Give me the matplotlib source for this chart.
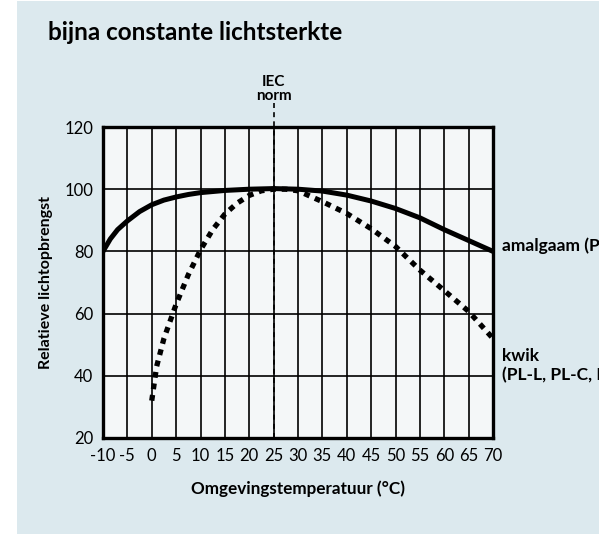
import matplotlib.pyplot as plt
from matplotlib.patches import Rectangle

plt.rcParams["font.family"] = ["Lato", "DejaVu Sans"]

# Data
amalgaam_t = [-10, -8.5, -7, -5, -2.5, 0, 2.5, 5, 7.5, 10, 15, 20, 25, 30, 35, 40, 45, 50, 55, 60, 65, 70]
amalgaam_v = [80, 84, 87, 89.8, 92.8, 95, 96.5, 97.5, 98.3, 98.9, 99.6, 100, 100.2, 100, 99.4, 98.1,
              96.2, 93.8, 90.8, 87, 83.5, 80]

kwik_t = [0, 1, 2.5, 5, 7.5, 10, 12.5, 15, 17.5, 20, 22.5, 25, 27.5, 30, 35, 40, 45, 50, 55, 60, 65, 70]
kwik_v = [32, 43, 52, 63, 72.5, 80.5, 87, 92, 95.5, 98, 99.5, 100, 100, 99.5, 96, 92.2, 87.3,
          81.6, 74, 67.4, 60.7, 52]

x_ticks = list(range(-10, 75, 5))
y_ticks = [20, 40, 60, 80, 100, 120]
iec_temp = 25

BG = "#dce9ee"
AX_BG = "#f4f7f8"

fig = plt.figure(figsize=(5.99, 5.34), dpi=100, facecolor=BG)
# white strip on the left and top edge
fig.patches.append(Rectangle((0, 0), 17 / 599, 1, transform=fig.transFigure,
                             facecolor="white", edgecolor="none", zorder=-10))
fig.patches.append(Rectangle((0, 1 - 1 / 534), 1, 1 / 534, transform=fig.transFigure,
                             facecolor="white", edgecolor="none", zorder=-10))

ax = fig.add_axes([103 / 599, (534 - 438) / 534, 390 / 599, 311 / 534])
ax.set_facecolor(AX_BG)
ax.set_xlim(-10, 70)
ax.set_ylim(20, 120)
ax.set_xticks(x_ticks)
ax.set_yticks(y_ticks)
ax.set_xticklabels([str(t) for t in x_ticks])
ax.tick_params(length=0, labelsize=12)
ax.tick_params(axis="x", pad=7)
ax.tick_params(axis="y", pad=7)
ax.grid(True, color="black", linewidth=1.2)
ax.set_axisbelow(True)
for s in ax.spines.values():
    s.set_linewidth(2.4)
    s.set_zorder(5)

ax.plot(amalgaam_t, amalgaam_v, color="black", linewidth=3.6, solid_capstyle="butt", zorder=4)
ax.plot(kwik_t, kwik_v, color="black", linewidth=3.8, linestyle=(0, (1.1, 1.1)),
        dash_capstyle="butt", zorder=4)

# IEC norm line, extends above the plot
ax.plot([iec_temp, iec_temp], [20, 128.5], color="black", linewidth=1.2, linestyle=(0, (3, 2.5)),
        clip_on=False, zorder=3)
ax.text(iec_temp, 132.2, "IEC\nnorm", ha="center", va="center", fontsize=11, fontweight="bold",
        linespacing=1.05)

ax.set_xlabel("Omgevingstemperatuur (°C)", fontsize=12.3, fontweight="bold", labelpad=12)
ax.set_ylabel("Relatieve lichtopbrengst", fontsize=11.5, fontweight="bold", labelpad=8)

ax.text(71.9, 81.8, "amalgaam (PL-T, PL-R)", ha="left", va="center", fontsize=12.5,
        fontweight="bold", clip_on=False)
ax.text(71.9, 49, "kwik\n(PL-L, PL-C, PL-S)", ha="left", va="top", fontsize=12.5,
        fontweight="bold", clip_on=False, linespacing=1.25)

fig.text(48 / 599, 1 - 33 / 534, "bijna constante lichtsterkte", ha="left", va="center",
         fontsize=17.5, fontweight="bold")

fig.savefig("out.png", dpi=100, facecolor=fig.get_facecolor())
